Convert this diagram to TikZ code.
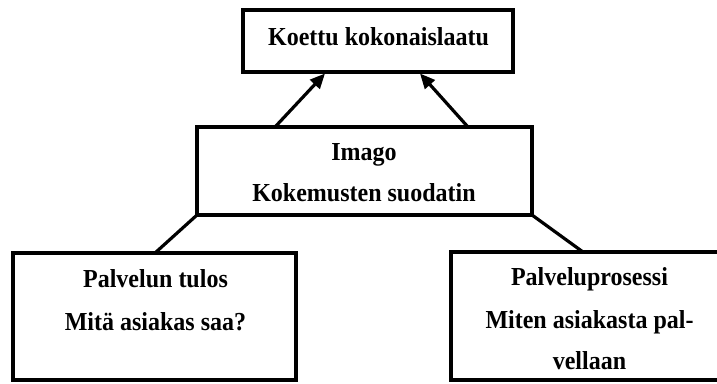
\documentclass[tikz,border=0pt]{standalone}
\usepackage{fontspec}
\usepackage{graphicx}
\setmainfont{Liberation Serif}
\usetikzlibrary{arrows.meta,calc}
\newcommand{\tallt}[1]{\scalebox{1}[1.08]{#1}}
\begin{document}
\begin{tikzpicture}[x=1pt,y=-1pt,
  box/.style={draw, line width=3.2pt, rectangle, inner sep=0pt, outer sep=0pt},
  txt/.style={font=\fontsize{24}{28}\selectfont\bfseries, anchor=base, inner sep=0pt},
  link/.style={line width=3.2pt},
  arr/.style={line width=3.2pt, -{Triangle[length=15pt,width=13pt]}}]
\useasboundingbox (0,0) rectangle (717,383);
\clip (0,0) rectangle (717,383);
\node[box, minimum width=270pt, minimum height=62pt] (top) at (378,41) {};
\node[box, minimum width=335pt, minimum height=88pt] (mid) at (364.5,171) {};
\node[box, minimum width=283pt, minimum height=127pt] (left) at (154.5,316.5) {};
\node[box, minimum width=277pt, minimum height=128pt] (right) at (589.5,316) {};

\node[txt] (t1) at (378.5,45) {\tallt{Koettu kokonaislaatu}};
\node[txt] (m1) at (364,160) {\tallt{Imago}};
\node[txt] (m2) at (364,201) {\tallt{Kokemusten suodatin}};
\node[txt] (l1) at (155.5,287) {\tallt{Palvelun tulos}};
\node[txt] (l2) at (155.5,330) {\tallt{Mitä asiakas saa?}};
\node[txt] (r1) at (589.5,285) {\tallt{Palveluprosessi}};
\node[txt] (r2) at (589.5,328) {\tallt{Miten asiakasta pal-}};
\node[txt] (r3) at (589.5,369) {\tallt{vellaan}};

\draw[arr] ($(mid.north west)+(78,0)$) -- ($(top.south west)+(82,1.5)$);
\draw[arr] ($(mid.north west)+(271,0)$) -- ($(top.south west)+(177,1.5)$);
\draw[link] (mid.south west) -- ($(left.north west)+(142,0)$);
\draw[link] (mid.south east) -- ($(right.north west)+(132,0)$);
\end{tikzpicture}
\end{document}
